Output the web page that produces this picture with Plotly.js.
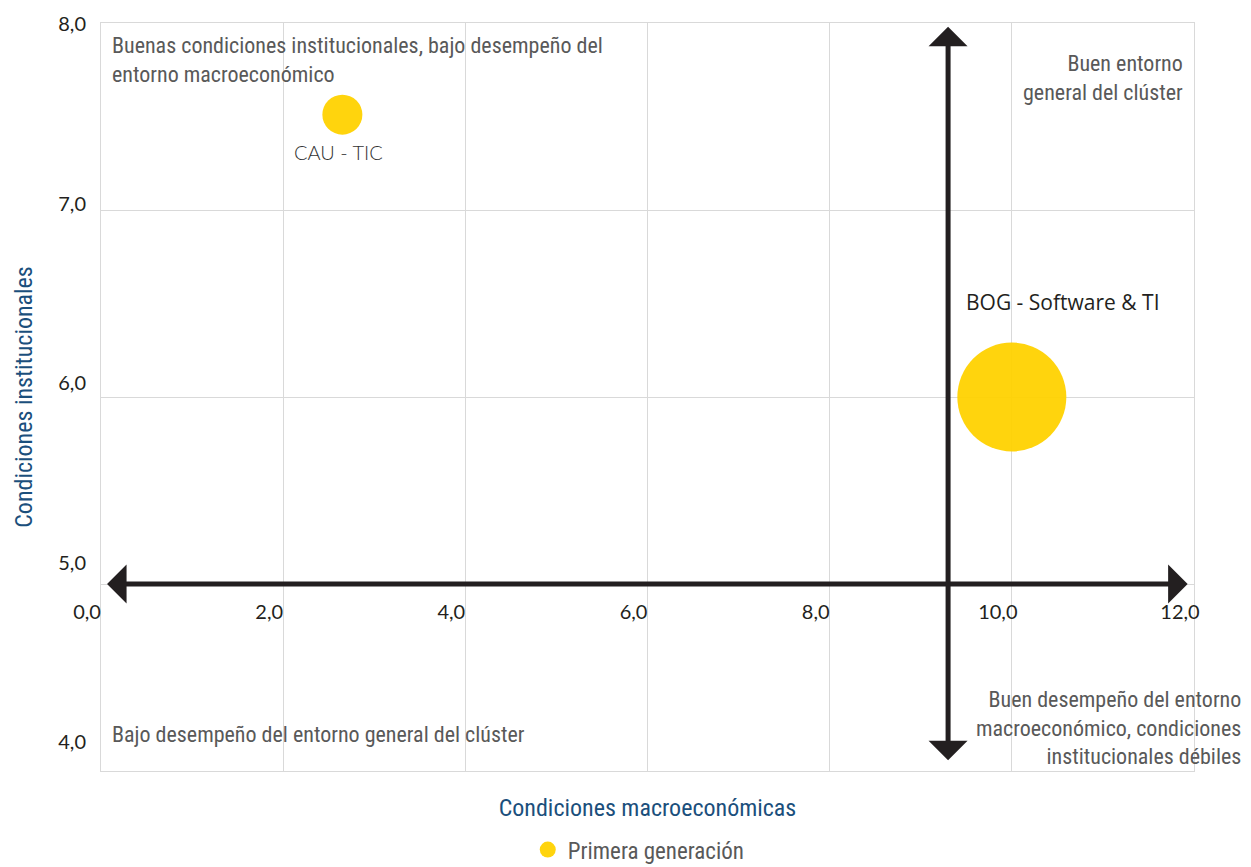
<!DOCTYPE html>
<html>
<head>
<meta charset="utf-8">
<script src="https://cdn.plot.ly/plotly-3.0.1.min.js"></script>
<style>
html,body{margin:0;padding:0;background:#fff;}
#chart{width:1251px;height:867px;}
text[style*="DejaVu"]{font-stretch:condensed;}
</style>
</head>
<body>
<div id="chart"></div>
<script>
// ---- Data ----
const serie = 'Primera generación';
const categorias = ['CAU - TIC', 'BOG - Software & TI'];
const macroeconomicas = [2.65, 10.0];
const institucionales = [7.51, 6.0];
const tamanoBurbuja = [40, 109];

const xTickVals = [0, 2, 4, 6, 8, 10, 12];
const xTickText = ['0,0', '2,0', '4,0', '6,0', '8,0', '10,0', '12,0'];
const yTickVals = [4, 5, 6, 7, 8];
const yTickText = ['4,0', '5,0', '6,0', '7,0', '8,0'];

const xRange = [0, 12];
const yRange = [4, 8];
const cruceX = 9.3;   // vertical quadrant divider
const cruceY = 5.0;   // horizontal quadrant divider

const cuadrantes = [
  'Buenas condiciones institucionales, bajo desempeño del<br>entorno macroeconómico',
  'Buen entorno<br>general del clúster',
  'Bajo desempeño del entorno general del clúster',
  'Buen desempeño del entorno<br>macroeconómico, condiciones<br>institucionales débiles'
];

// ---- Styles ----
const narrow = 'Roboto Condensed, Liberation Sans Narrow, DejaVu Sans';
const gris = '#595959';
const azul = '#1B4F7C';
const amarillo = '#FFD200';
const gridColor = '#D9D9D9';
const flecha = '#231F20';

const traces = [
  {
    type: 'scatter',
    mode: 'markers',
    name: serie,
    x: macroeconomicas,
    y: institucionales,
    text: categorias,
    hoverinfo: 'text',
    marker: { size: tamanoBurbuja, sizemode: 'diameter', color: amarillo, opacity: 0.95, line: { width: 0 } }
  },
  {
    type: 'scatter', mode: 'markers', x: [], y: [], xaxis: 'x2', yaxis: 'y2',
    showlegend: false, hoverinfo: 'skip'
  }
];

const labelStyles = [
  { xshift: -4, yshift: -37, font: { family: 'Lato, sans-serif', size: 20, color: '#333333', weight: 300 } },
  { xshift: 51, yshift: 95, font: { family: 'Open Sans, sans-serif', size: 21, color: '#231F20' } }
];

const annotations = [];
categorias.forEach((c, i) => {
  annotations.push(Object.assign({
    x: macroeconomicas[i], y: institucionales[i], xref: 'x', yref: 'y',
    text: c, showarrow: false, xanchor: 'center', yanchor: 'middle'
  }, labelStyles[i]));
});

const qFont = { family: narrow, size: 22, color: gris };
annotations.push(
  { xref: 'paper', yref: 'paper', x: 0, y: 1, xanchor: 'left', yanchor: 'middle', align: 'left',
    xshift: 9, yshift: -37, text: cuadrantes[0], showarrow: false, font: qFont },
  { xref: 'paper', yref: 'paper', x: 1, y: 1, xanchor: 'right', yanchor: 'middle', align: 'right',
    xshift: -9, yshift: -55, text: cuadrantes[1], showarrow: false, font: qFont },
  { xref: 'paper', yref: 'paper', x: 0, y: 0, xanchor: 'left', yanchor: 'middle', align: 'left',
    xshift: 9, yshift: 37, text: cuadrantes[2], showarrow: false, font: qFont },
  { xref: 'paper', yref: 'paper', x: 1, y: 0, xanchor: 'right', yanchor: 'middle', align: 'right',
    xshift: 49, yshift: 43, text: cuadrantes[3], showarrow: false, font: qFont }
);

// quadrant divider arrows
const arrowStyle = { text: '', showarrow: true, arrowhead: 1, startarrowhead: 1, arrowside: 'end+start',
  arrowwidth: 5, arrowsize: 1.3, startarrowsize: 1.3, arrowcolor: flecha, standoff: 0, startstandoff: 0,
  xref: 'x', yref: 'y', axref: 'x', ayref: 'y' };
annotations.push(
  Object.assign({ x: xRange[1] - 0.07, y: cruceY, ax: xRange[0] + 0.05, ay: cruceY }, arrowStyle),
  Object.assign({ x: cruceX, y: yRange[1] - 0.02, ax: cruceX, ay: yRange[0] + 0.05 }, arrowStyle)
);

const tickFont = { family: 'Lato, sans-serif', size: 20, color: '#231F20' };

const layout = {
  width: 1251, height: 867,
  margin: { l: 101, r: 57, t: 23, b: 96 },
  paper_bgcolor: '#ffffff', plot_bgcolor: '#ffffff',
  showlegend: true,
  legend: { orientation: 'h', xref: 'paper', x: 0.492, xanchor: 'center',
            yref: 'container', y: 0.02, yanchor: 'middle',
            font: { family: narrow, size: 23, color: gris }, itemsizing: 'trace' },
  xaxis: {
    range: xRange, tickvals: xTickVals, showticklabels: false, ticks: '',
    showgrid: true, gridcolor: gridColor, gridwidth: 1, zeroline: false,
    showline: true, mirror: true, linecolor: gridColor, linewidth: 1,
    title: { text: 'Condiciones macroeconómicas', font: { family: narrow, size: 24, color: azul }, standoff: 28 }
  },
  xaxis2: {
    overlaying: 'x', anchor: 'free',
    position: (cruceY - yRange[0]) / (yRange[1] - yRange[0]),
    range: xRange, tickvals: xTickVals, ticktext: xTickText, ticks: '',
    showgrid: false, zeroline: false, showline: false,
    tickfont: tickFont, ticklabelshift: -14, ticklabelstandoff: 14
  },
  yaxis: {
    range: yRange, tickvals: yTickVals, showticklabels: false, ticks: '',
    showgrid: true, gridcolor: gridColor, gridwidth: 1, zeroline: false,
    showline: true, mirror: true, linecolor: gridColor, linewidth: 1,
    title: { text: 'Condiciones institucionales', font: { family: narrow, size: 24, color: azul }, standoff: 60 }
  },
  yaxis2: {
    overlaying: 'y', side: 'left', anchor: 'x',
    range: [3.838, 8.008], tickvals: yTickVals, ticktext: yTickText, ticks: '',
    showgrid: false, zeroline: false, showline: false,
    tickfont: tickFont, ticklabelstandoff: 14
  },
  annotations: annotations
};

Plotly.newPlot('chart', traces, layout, { displayModeBar: false, staticPlot: true });
</script>
</body>
</html>
